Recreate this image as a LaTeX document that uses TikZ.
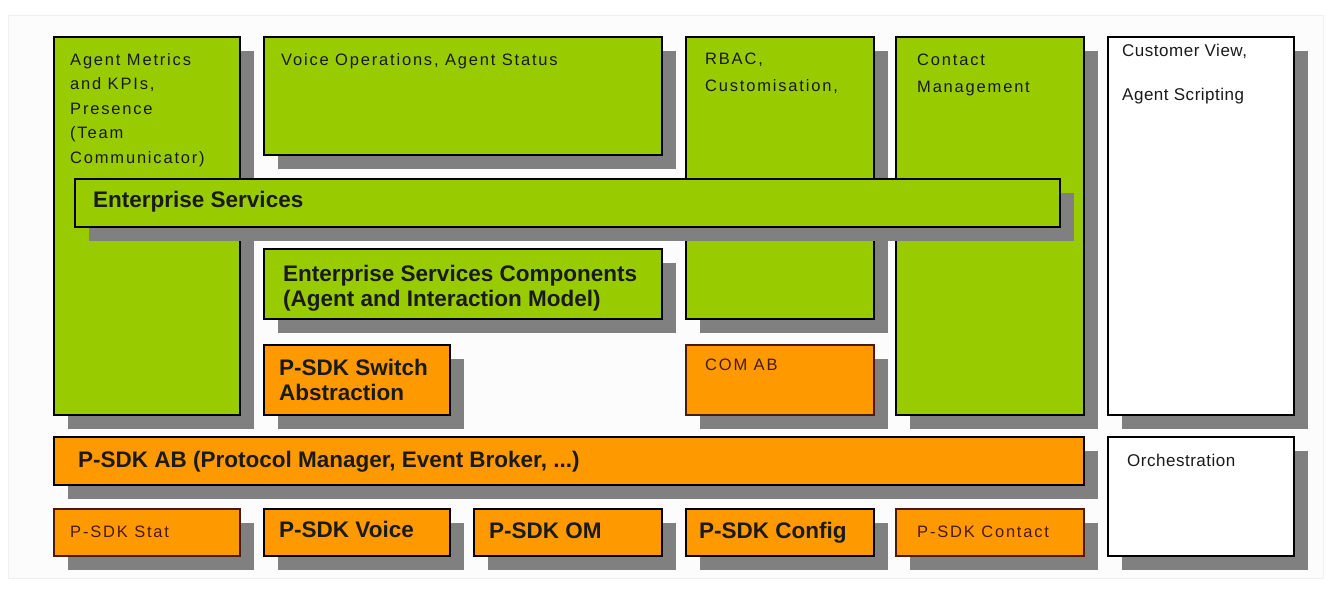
\documentclass[tikz,border=0pt]{standalone}
\usepackage{fontspec}
\setmainfont{Liberation Sans}
\newfontfamily\spacedfont[LetterSpace=11]{Liberation Sans}
\newfontfamily\midfont[LetterSpace=3]{Liberation Sans}
\usetikzlibrary{shadows}
\definecolor{leaf}{HTML}{99CC00}
\definecolor{amber}{HTML}{FF9900}
\definecolor{shade}{HTML}{808080}
\definecolor{ink}{HTML}{1A1A1A}
\definecolor{rust}{HTML}{4A1A10}
\definecolor{paper}{HTML}{FCFCFC}

\begin{document}
\begin{tikzpicture}[
    x=1pt, y=-1pt,
    box/.style={draw=black, line width=1.8pt, anchor=north west, inner sep=0pt,
      drop shadow={shadow xshift=14pt, shadow yshift=-14pt, fill=shade, opacity=1}},
    gbox/.style={box, fill=leaf},
    obox/.style={box, fill=amber},
    wbox/.style={box, fill=white},
    txt/.style={anchor=north west, inner sep=0pt, align=left, text=ink},
    small/.style={txt, font=\spacedfont\fontsize{16.5}{24.5}\selectfont},
    mid/.style={txt, font=\midfont\fontsize{17}{44}\selectfont},
    big/.style={txt, font=\bfseries\fontsize{22.5}{24.5}\selectfont},
    bigb/.style={big, anchor=base west},
    smallb/.style={small, anchor=base west}
  ]
    \useasboundingbox (0,0) rectangle (1343,589);
    \fill[paper, draw=black!6] (8,15) rectangle (1323,578);

    % Top columns
    \node[gbox, minimum width=186pt, minimum height=378pt] (metrics) at (53,36) {};
    \node[small] (metricsT) at ([shift={(17,17)}]metrics.north west) {Agent Metrics\\and KPIs,\\Presence\\(Team\\Communicator)};
    \node[gbox, minimum width=398pt, minimum height=118pt] (voiceops) at (263,36) {};
    \node[small] (voiceopsT) at ([shift={(18,17)}]voiceops.north west) {Voice Operations, Agent Status};
    \node[gbox, minimum width=188pt, minimum height=282pt] (rbac) at (685,36) {};
    \node[small, font=\spacedfont\fontsize{16.5}{27}\selectfont] (rbacT) at ([shift={(20,17)}]rbac.north west) {RBAC,\\Customisation,};
    \node[gbox, minimum width=188pt, minimum height=378pt] (contact) at (895,36) {};
    \node[small, font=\spacedfont\fontsize{16.5}{27}\selectfont] (contactT) at ([shift={(22,18)}]contact.north west) {Contact\\Management};
    \node[wbox, minimum width=186pt, minimum height=378pt] (custview) at (1107,36) {};
    \node[mid] (custviewT) at ([shift={(15,8)}]custview.north west) {Customer View,\\Agent Scripting};

    % Enterprise services bar
    \node[gbox, minimum width=985pt, minimum height=48pt] (ent) at (74,178) {};
    \node[bigb] (entT) at ([shift={(19,29)}]ent.north west) {Enterprise Services};

    % Middle blocks
    \node[gbox, minimum width=398pt, minimum height=70pt] (entcomp) at (263,248) {};
    \node[big, font=\bfseries\fontsize{22.5}{25}\selectfont] (entcompT) at ([shift={(20,17)}]entcomp.north west) {Enterprise Services Components\\(Agent and Interaction Model)};
    \node[obox, minimum width=186pt, minimum height=70pt] (switch) at (263,344) {};
    \node[big] (switchT) at ([shift={(16,15)}]switch.north west) {P-SDK Switch\\Abstraction};
    \node[obox, draw=rust, minimum width=188pt, minimum height=70pt] (comab) at (685,344) {};
    \node[small, text=rust] (comabT) at ([shift={(20,15)}]comab.north west) {COM AB};

    % Protocol layer
    \node[obox, minimum width=1030pt, minimum height=48pt] (psdkab) at (53,436) {};
    \node[bigb] (psdkabT) at ([shift={(25,31)}]psdkab.north west) {P-SDK AB (Protocol Manager, Event Broker, ...)};
    \node[wbox, minimum width=186pt, minimum height=119pt] (orch) at (1107,436) {};
    \node[mid, anchor=base west] (orchT) at ([shift={(20,30)}]orch.north west) {Orchestration};

    % Bottom row
    \node[obox, draw=rust, minimum width=186pt, minimum height=47pt] (stat) at (53,508) {};
    \node[smallb, text=rust] (statT) at ([shift={(17,29)}]stat.north west) {P-SDK Stat};
    \node[obox, minimum width=186pt, minimum height=47pt] (voice) at (263,508) {};
    \node[bigb] (voiceT) at ([shift={(16,29)}]voice.north west) {P-SDK Voice};
    \node[obox, minimum width=188pt, minimum height=47pt] (om) at (473,508) {};
    \node[bigb] (omT) at ([shift={(16,30)}]om.north west) {P-SDK OM};
    \node[obox, minimum width=188pt, minimum height=47pt] (config) at (685,508) {};
    \node[bigb] (configT) at ([shift={(14,30)}]config.north west) {P-SDK Config};
    \node[obox, draw=rust, minimum width=188pt, minimum height=47pt] (pcontact) at (895,508) {};
    \node[smallb, text=rust] (pcontactT) at ([shift={(22,29)}]pcontact.north west) {P-SDK Contact};
  \end{tikzpicture}
\end{document}
